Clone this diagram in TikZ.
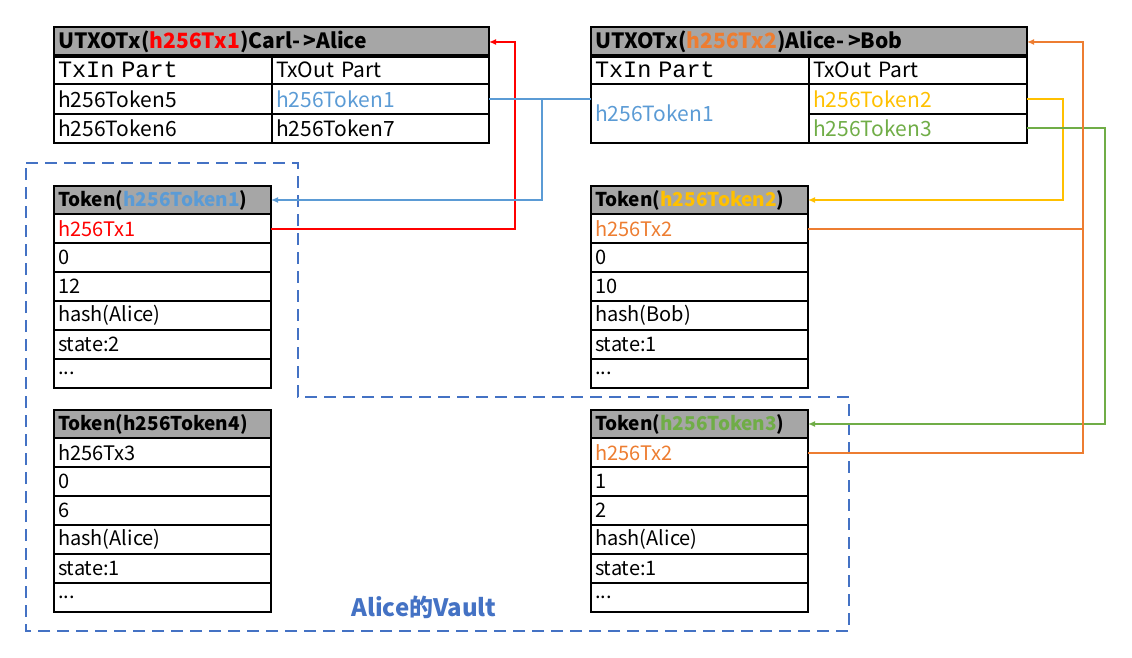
\documentclass[tikz,border=0pt]{standalone}
\usepackage{fontspec}
\setmainfont{Noto Sans CJK SC}
\newfontfamily\txinfont{Liberation Mono}
\usetikzlibrary{positioning,arrows.meta}
\definecolor{headgray}{HTML}{A6A6A6}
\definecolor{tokblue}{HTML}{5B9BD5}
\definecolor{tokyellow}{HTML}{FFC000}
\definecolor{tokgreen}{HTML}{70AD47}
\definecolor{txorange}{HTML}{ED7D31}
\definecolor{vaultblue}{HTML}{4472C4}
\tikzset{
  cell/.style={draw, line width=1.2pt, outer sep=0pt, inner sep=4pt, minimum height=29pt,
    align=left, anchor=north west, font=\fontsize{21}{24}\selectfont},
  head/.style={cell, fill=headgray, minimum height=28pt, font=\fontsize{21}{24}\selectfont\bfseries},
  tokhead/.style={head, text width=209pt, font=\fontsize{19}{22}\selectfont\bfseries},
  tokrow/.style={cell, text width=209pt, below=0pt of #1, font=\fontsize{20}{23}\selectfont},
  frame/.style={draw, line width=2.6pt},
  link/.style={line width=2pt, -{Latex[length=7pt,width=6pt]}}
}
\begin{document}
\begin{tikzpicture}[x=1pt,y=-1pt]
\useasboundingbox (0,0) rectangle (1132,658);
% transaction Carl->Alice
\node[head, text width=427pt] (tx1_h) at (54,27) {UTXOTx(\textcolor{red}{h256Tx1})Carl-\,>Alice};
\node[cell, text width=210pt] (tx1_in) at (54,55) {\txinfont\fontsize{23.5}{24}\selectfont TxIn Part};
\node[cell, text width=209pt] (tx1_out) at (272,55) {TxOut Part};
\node[cell, text width=210pt, minimum height=30pt] (tx1_in5) at (54,84) {h256Token5};
\node[cell, text width=209pt, minimum height=30pt] (tx1_out1) at (272,84) {\textcolor{tokblue}{h256Token1}};
\node[cell, text width=210pt] (tx1_in6) at (54,114) {h256Token6};
\node[cell, text width=209pt] (tx1_out7) at (272,114) {h256Token7};
\draw[frame] (tx1_h.north west) rectangle (tx1_out7.south east);
% transaction Alice->Bob
\node[head, text width=428pt] (tx2_h) at (591,27) {UTXOTx(\textcolor{txorange}{h256Tx2})Alice-\,>Bob};
\node[cell, text width=210pt] (tx2_in) at (591,55) {\txinfont\fontsize{23.5}{24}\selectfont TxIn Part};
\node[cell, text width=210pt] (tx2_out) at (809,55) {TxOut Part};
\node[cell, text width=210pt, minimum height=59pt] (tx2_in1) at (591,84) {\textcolor{tokblue}{h256Token1}};
\node[cell, text width=210pt, minimum height=30pt] (tx2_out2) at (809,84) {\textcolor{tokyellow}{h256Token2}};
\node[cell, text width=210pt] (tx2_out3) at (809,114) {\textcolor{tokgreen}{h256Token3}};
\draw[frame] (tx2_h.north west) rectangle (tx2_out3.south east);
% token 1
\node[tokhead] (t1_h) at (54,186) {Token(\textcolor{tokblue}{h256Token1})};
\node[tokrow=t1_h] (t1_a) {\textcolor{red}{h256Tx1}};
\node[tokrow=t1_a] (t1_b) {0};
\node[tokrow=t1_b] (t1_c) {12};
\node[tokrow=t1_c] (t1_d) {hash(Alice)};
\node[tokrow=t1_d] (t1_e) {state:2};
\node[tokrow=t1_e] (t1_f) {...};
\draw[frame] (t1_h.north west) rectangle (t1_f.south east);
% token 2
\node[tokhead] (t2_h) at (591,186) {Token(\textcolor{tokyellow}{h256Token2})};
\node[tokrow=t2_h] (t2_a) {\textcolor{txorange}{h256Tx2}};
\node[tokrow=t2_a] (t2_b) {0};
\node[tokrow=t2_b] (t2_c) {10};
\node[tokrow=t2_c] (t2_d) {hash(Bob)};
\node[tokrow=t2_d] (t2_e) {state:1};
\node[tokrow=t2_e] (t2_f) {...};
\draw[frame] (t2_h.north west) rectangle (t2_f.south east);
% token 4
\node[tokhead] (t4_h) at (54,410) {Token(h256Token4)};
\node[tokrow=t4_h] (t4_a) {h256Tx3};
\node[tokrow=t4_a] (t4_b) {0};
\node[tokrow=t4_b] (t4_c) {6};
\node[tokrow=t4_c] (t4_d) {hash(Alice)};
\node[tokrow=t4_d] (t4_e) {state:1};
\node[tokrow=t4_e] (t4_f) {...};
\draw[frame] (t4_h.north west) rectangle (t4_f.south east);
% token 3
\node[tokhead] (t3_h) at (591,410) {Token(\textcolor{tokgreen}{h256Token3})};
\node[tokrow=t3_h] (t3_a) {\textcolor{txorange}{h256Tx2}};
\node[tokrow=t3_a] (t3_b) {1};
\node[tokrow=t3_b] (t3_c) {2};
\node[tokrow=t3_c] (t3_d) {hash(Alice)};
\node[tokrow=t3_d] (t3_e) {state:1};
\node[tokrow=t3_e] (t3_f) {...};
\draw[frame] (t3_h.north west) rectangle (t3_f.south east);
% vault
\draw[vaultblue, line width=2.4pt, dash pattern=on 12pt off 7pt]
  (26,163) -- (298,163) -- (298,397) -- (849,397) -- (849,631) -- (26,631) -- cycle;
\node[text=vaultblue, font=\fontsize{24}{28}\selectfont\bfseries] (vault_lbl) at (424,607) {Alice的Vault};
% links
\draw[link, red] (t1_a.east) -- ++(244,0) |- (tx1_h.east);
\coordinate (bj) at (542,0);
\draw[link, -, tokblue] (tx1_out1.east) -- (tx1_out1.east -| tx2_in1.west);
\draw[link, tokblue] (tx1_out1.east -| bj) |- (t1_h.east);
\draw[link, tokyellow] (tx2_out2.east) -- ++(36,0) |- (t2_h.east);
\draw[link, tokgreen] (tx2_out3.east) -- ++(78,0) |- (t3_h.east);
\draw[link, -, txorange] (t2_a.east) -- ++(275,0);
\draw[link, txorange] (t3_a.east) -- ++(275,0) |- (tx2_h.east);
\end{tikzpicture}
\end{document}
